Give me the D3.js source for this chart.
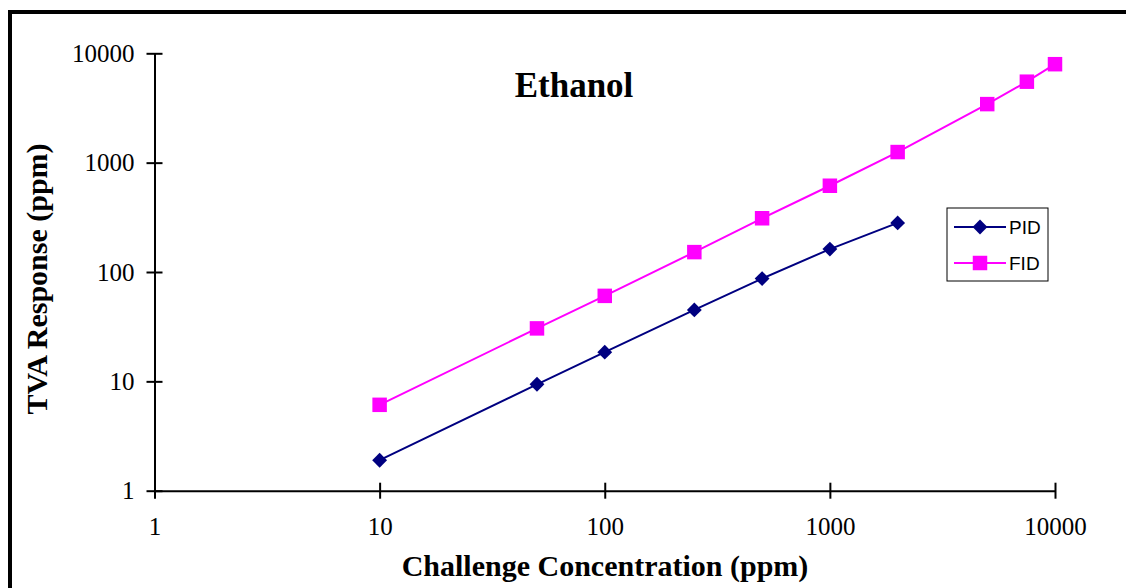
<!DOCTYPE html>
<html>
<head>
<meta charset="utf-8">
<script src="https://cdn.jsdelivr.net/npm/d3@7"></script>
<style>
  body { margin: 0; background: #fff; }
</style>
</head>
<body>
<script>
    const chart_width = 1126;
    const chart_height = 588;

    // challenge concentrations (ppm)
    const pid_conc = [10, 50, 100, 250, 500, 1000, 2000];
    const pid_resp = [1.9, 9.4, 18.5, 45, 87, 162, 281];
    const fid_conc = [10, 50, 100, 250, 500, 1000, 2000, 5000, 7500, 10000];
    const fid_resp = [6.1, 30.5, 60.5, 152, 310, 615, 1250, 3430, 5500, 7950];
    const tick_values = [1, 10, 100, 1000, 10000];
    const series_names = ['PID', 'FID'];

    const serif = '"Liberation Serif", "Times New Roman", serif';

    const svg = d3.select('body').append('svg').attr('width', chart_width).attr('height', chart_height)
        .style('font-family', serif);

    // outer frame (right and bottom edges fall outside the picture)
    svg.append('rect')
        .attr('x', 10).attr('y', 12)
        .attr('width', 1300).attr('height', 700)
        .attr('fill', 'none').attr('stroke', '#000').attr('stroke-width', 4);

    const x = d3.scaleLog().domain([1, 10000]).range([154.5, 1055]);
    const y = d3.scaleLog().domain([1, 10000]).range([490.7, 53.3]);

    const fmt = d3.format('d');

    const xAxis = svg.append('g')
        .attr('transform', `translate(0,${y(1)})`)
        .call(d3.axisBottom(x).tickValues(tick_values).tickFormat(fmt).tickSize(8).tickSizeOuter(0));
    const yAxis = svg.append('g')
        .attr('transform', `translate(${x(1)},0)`)
        .call(d3.axisLeft(y).tickValues(tick_values).tickFormat(fmt).tickSize(8).tickSizeOuter(0));

    [xAxis, yAxis].forEach(a => {
      a.attr('font-family', serif).attr('font-size', 25);
      a.select('.domain').attr('stroke', '#000').attr('stroke-width', 2);
      a.selectAll('.tick line').attr('stroke', '#000').attr('stroke-width', 2);
      a.selectAll('text').attr('fill', '#000');
    });
    // ticks cross the axis
    xAxis.selectAll('.tick line').attr('y1', -8).attr('y2', 8);
    xAxis.selectAll('.tick text').attr('y', 27);
    yAxis.selectAll('.tick line').attr('x1', 8).attr('x2', -8);
    yAxis.selectAll('.tick text').attr('x', -20);

    const line = d3.line().x(d => x(d[0])).y(d => y(d[1]));

    const pid = pid_conc.map((c, i) => [c, pid_resp[i]]);
    const fid = fid_conc.map((c, i) => [c, fid_resp[i]]);

    svg.append('path').datum(fid).attr('d', line)
        .attr('fill', 'none').attr('stroke', '#ff00ff').attr('stroke-width', 2);
    svg.append('path').datum(pid).attr('d', line)
        .attr('fill', 'none').attr('stroke', '#000080').attr('stroke-width', 2);

    const square = d3.symbol().type(d3.symbolSquare).size(210);
    const diamond = d3.symbol().type(d3.symbolSquare).size(110);

    svg.selectAll('.fid-pt').data(fid).enter().append('path')
        .attr('class', 'fid-pt')
        .attr('d', square)
        .attr('transform', d => `translate(${x(d[0])},${y(d[1])})`)
        .attr('fill', '#ff00ff');
    svg.selectAll('.pid-pt').data(pid).enter().append('path')
        .attr('class', 'pid-pt')
        .attr('d', diamond)
        .attr('transform', d => `translate(${x(d[0])},${y(d[1])}) rotate(45)`)
        .attr('fill', '#000080');

    // title
    svg.append('text')
        .attr('x', 574).attr('y', 97)
        .attr('text-anchor', 'middle')
        .attr('font-size', 35).attr('font-weight', 'bold')
        .text('Ethanol');

    // axis titles
    svg.append('text')
        .attr('x', 605).attr('y', 576)
        .attr('text-anchor', 'middle')
        .attr('font-size', 30).attr('font-weight', 'bold')
        .text('Challenge Concentration (ppm)');
    svg.append('text')
        .attr('transform', 'translate(47,279) rotate(-90)')
        .attr('text-anchor', 'middle')
        .attr('font-size', 30).attr('font-weight', 'bold')
        .text('TVA Response (ppm)');

    // legend
    const legend = svg.append('g');
    legend.append('rect')
        .attr('x', 947).attr('y', 208).attr('width', 101).attr('height', 73)
        .attr('fill', '#fff').attr('stroke', '#000').attr('stroke-width', 1);
    const legend_colors = ['#000080', '#ff00ff'];
    series_names.forEach((name, i) => {
      const ly = 227 + i * 36;
      legend.append('line')
          .attr('x1', 954).attr('x2', 1006).attr('y1', ly).attr('y2', ly)
          .attr('stroke', legend_colors[i]).attr('stroke-width', 2);
      legend.append('path')
          .attr('d', i === 0 ? diamond : square)
          .attr('transform', i === 0 ? `translate(980,${ly}) rotate(45)` : `translate(980,${ly})`)
          .attr('fill', legend_colors[i]);
      legend.append('text')
          .attr('x', 1009).attr('y', ly + 7)
          .style('font-family', '"Liberation Sans", Arial, sans-serif')
          .attr('font-size', 19)
          .text(name);
    });
</script>
</body>
</html>
